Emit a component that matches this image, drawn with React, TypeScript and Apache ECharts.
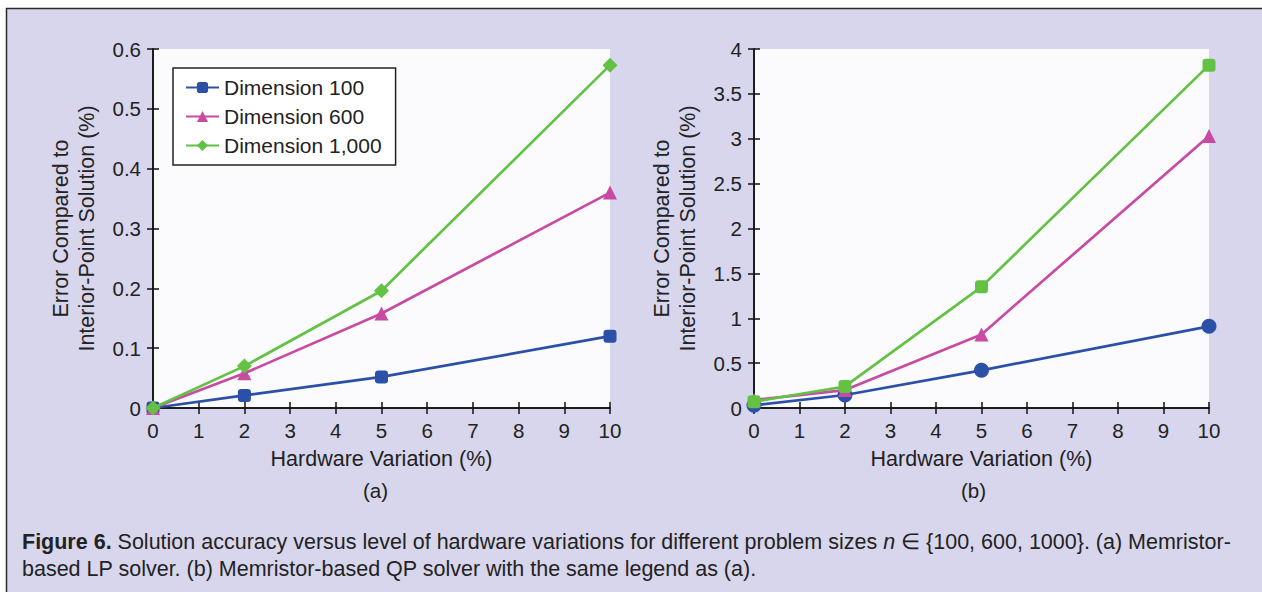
import React, { useEffect, useRef } from "react";
import * as echarts from "echarts";

const xValues = [0, 2, 5, 10];
const seriesNames = ["Dimension 100", "Dimension 600", "Dimension 1,000"];
const lpDim100 = [0, 0.021, 0.052, 0.12];
const lpDim600 = [0, 0.058, 0.158, 0.36];
const lpDim1000 = [0, 0.07, 0.196, 0.573];
const qpDim100 = [0.03, 0.145, 0.42, 0.91];
const qpDim600 = [0.09, 0.2, 0.82, 3.03];
const qpDim1000 = [0.07, 0.24, 1.35, 3.82];

const colors = ["#2c50a8", "#c94aa2", "#63c144"];
const lpSymbols = ["roundRect", "triangle", "diamond"];
const qpSymbols = ["circle", "triangle", "roundRect"];
const lpSizes = [13, 14, 15];
const qpSizes = [15, 14, 13];

const FONT = "'Liberation Sans', Arial, Helvetica, sans-serif";
const TEXT = "#222";

function pairs(ys: number[]) {
  return xValues.map((x, i) => [x, ys[i]]);
}

export default function App() {
  const ref = useRef<HTMLDivElement>(null);
  useEffect(() => {
    if (!ref.current) return;
    const chart = echarts.init(ref.current, undefined, { renderer: "svg" });
    const grids = [
      { left: 153, top: 49, width: 457, height: 359 },
      { left: 754, top: 49, width: 455, height: 359 },
    ];
    const yRanges = [
      { max: 0.6, interval: 0.1 },
      { max: 4, interval: 0.5 },
    ];
    const xAxes: any[] = [];
    const yAxes: any[] = [];
    grids.forEach((g, gi) => {
      const tick = { show: true, inside: true, length: 6, lineStyle: { color: "#111", width: 1.5 } };
      const line = { show: true, lineStyle: { color: "#111", width: 1.5 } };
      xAxes.push({
        type: "value", gridIndex: gi, min: 0, max: 10, interval: 1, position: "bottom",
        axisLine: line, axisTick: tick, splitLine: { show: false },
        axisLabel: { color: TEXT, fontSize: 20.5, fontFamily: FONT, margin: 12 },
        name: "Hardware Variation (%)", nameLocation: "middle", nameGap: 40,
        nameTextStyle: { color: TEXT, fontSize: 21.5, fontFamily: FONT },
      });
      xAxes.push({
        type: "value", gridIndex: gi, min: 0, max: 10, interval: 1, position: "top",
        axisLine: line, axisTick: tick, splitLine: { show: false }, axisLabel: { show: false },
      });
      yAxes.push({
        type: "value", gridIndex: gi, min: 0, max: yRanges[gi].max, interval: yRanges[gi].interval, position: "left",
        axisLine: line, axisTick: tick, splitLine: { show: false },
        axisLabel: { color: TEXT, fontSize: 20.5, fontFamily: FONT, margin: 12 },
        name: "Error Compared to\nInterior-Point Solution (%)", nameLocation: "middle", nameRotate: 90, nameGap: 53,
        nameTextStyle: { color: TEXT, fontSize: 21.5, fontFamily: FONT, lineHeight: 26 },
      });
      yAxes.push({
        type: "value", gridIndex: gi, min: 0, max: yRanges[gi].max, interval: yRanges[gi].interval, position: "right",
        axisLine: line, axisTick: tick, splitLine: { show: false }, axisLabel: { show: false },
      });
    });

    const lp = [lpDim100, lpDim600, lpDim1000];
    const qp = [qpDim100, qpDim600, qpDim1000];
    const series: any[] = [];
    lp.forEach((ys, i) => {
      series.push({
        type: "line", name: seriesNames[i], xAxisIndex: 0, yAxisIndex: 0, data: pairs(ys),
        symbol: lpSymbols[i], symbolSize: lpSizes[i], clip: false,
        lineStyle: { color: colors[i], width: 2.7 }, itemStyle: { color: colors[i] },
        z: 3 + i,
      });
    });
    qp.forEach((ys, i) => {
      series.push({
        type: "line", name: seriesNames[i], xAxisIndex: 2, yAxisIndex: 2, data: pairs(ys),
        symbol: qpSymbols[i], symbolSize: qpSizes[i], clip: false,
        lineStyle: { color: colors[i], width: 2.7 }, itemStyle: { color: colors[i] },
        z: 3 + i,
      });
    });

    chart.setOption({
      animation: false,
      backgroundColor: "#ffffff",
      grid: grids.map((g) => ({ ...g, show: true, backgroundColor: "#fbfbfe", borderWidth: 0 })),
      xAxis: xAxes,
      yAxis: yAxes,
      legend: {
        data: seriesNames,
        orient: "vertical",
        left: 173,
        top: 68,
        backgroundColor: "#ffffff",
        borderColor: "#222",
        borderWidth: 1.5,
        borderRadius: 0,
        padding: [9, 14, 9, 12],
        itemWidth: 33,
        itemHeight: 14,
        itemGap: 8,
        textStyle: { color: TEXT, fontSize: 21, fontFamily: FONT, lineHeight: 21 },
        selectedMode: false,
      },
      graphic: [
        {
          type: "rect", z: -10, silent: true,
          shape: { x: 6.5, y: 8.5, width: 1270, height: 600 },
          style: { fill: "#d7d6ec", stroke: "#2a2a2a", lineWidth: 1.5 },
        },
        {
          type: "text", left: 383 - 20, top: 480,
          style: { text: "(a)", fill: TEXT, fontSize: 20.5, fontFamily: FONT },
        },
        {
          type: "text", left: 981 - 20, top: 480,
          style: { text: "(b)", fill: TEXT, fontSize: 20.5, fontFamily: FONT },
        },
        {
          type: "text", x: 22, y: 528,
          style: {
            text:
              "{b|Figure 6.} Solution accuracy versus level of hardware variations for different problem sizes {i|n} \u2208 {100, 600, 1000}. (a) Memristor-\nbased LP solver. (b) Memristor-based QP solver with the same legend as (a).",
            fill: TEXT, fontSize: 21.5, fontFamily: FONT, lineHeight: 27,
            rich: {
              b: { fontWeight: "bold", fontSize: 21.5, fontFamily: FONT, fill: TEXT, lineHeight: 27 },
              i: { fontStyle: "italic", fontSize: 21.5, fontFamily: FONT, fill: TEXT, lineHeight: 27 },
            },
          },
        },
      ],
      series,
    });
    return () => chart.dispose();
  }, []);
  return (
    <div
      ref={ref}
      style={{ position: "fixed", left: 0, top: 0, width: 1262, height: 592 }}
    />
  );
}
